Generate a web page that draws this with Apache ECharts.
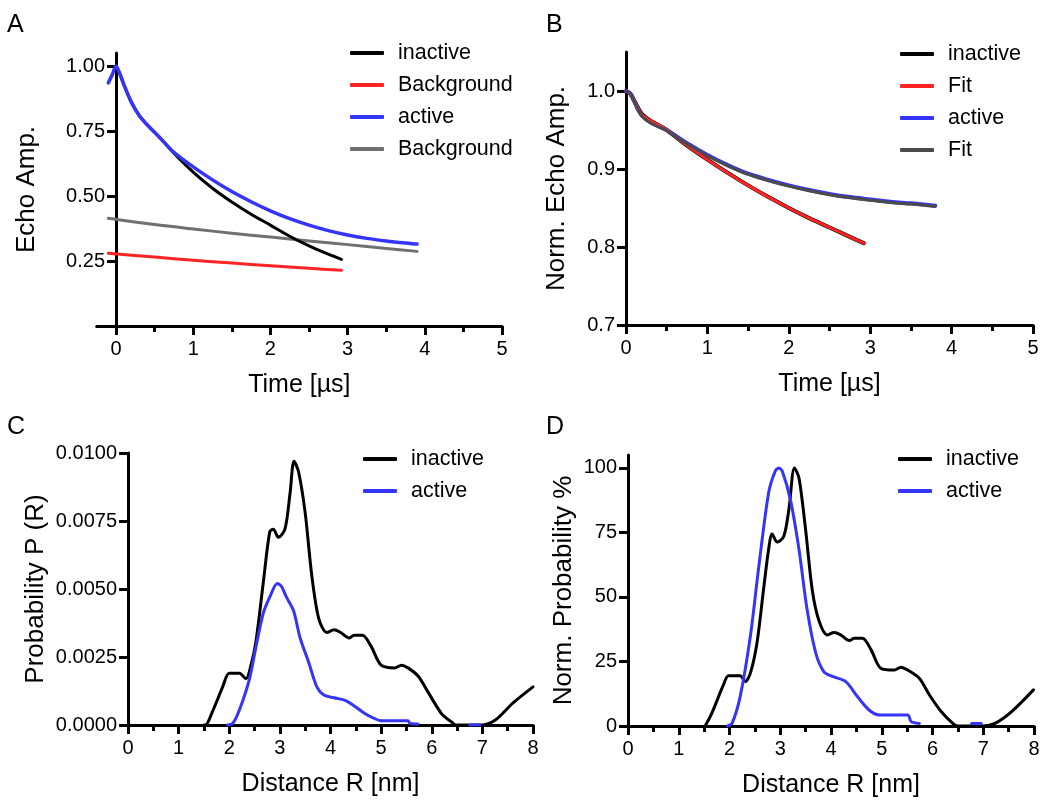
<!DOCTYPE html>
<html>
<head>
<meta charset="utf-8">
<script src="https://cdn.jsdelivr.net/npm/echarts@6/dist/echarts.min.js"></script>
<style>
  html, body { margin: 0; padding: 0; background: #fff; }
  #chart { width: 1044px; height: 801px; }
</style>
</head>
<body>
<div id="chart"></div>
<script>
// ---- Panel A: raw echo amplitude with background decays ----
const timeA_inactive = [0, 0.05, 0.1, 0.2, 0.3, 0.4, 0.55, 0.75, 1.0, 1.25, 1.5, 1.75, 2.0, 2.25, 2.5, 2.75, 2.92];
const echoA_inactive = [1.0, 0.97, 0.93, 0.86, 0.81, 0.775, 0.73, 0.665, 0.592, 0.530, 0.477, 0.430, 0.388, 0.345, 0.308, 0.276, 0.256];
const timeA_active = [-0.1, -0.05, 0, 0.05, 0.1, 0.2, 0.3, 0.4, 0.55, 0.75, 1.0, 1.25, 1.5, 1.75, 2.0, 2.25, 2.5, 2.75, 3.0, 3.25, 3.5, 3.75, 3.9];
const echoA_active = [0.935, 0.965, 1.0, 0.97, 0.93, 0.86, 0.81, 0.775, 0.73, 0.668, 0.612, 0.562, 0.517, 0.478, 0.443, 0.413, 0.388, 0.367, 0.350, 0.337, 0.327, 0.319, 0.315];
const timeA_bgInactive = [-0.1, 0.5, 1.0, 1.5, 2.0, 2.5, 2.92];
const echoA_bgInactive = [0.28, 0.265, 0.253, 0.242, 0.232, 0.222, 0.214];
const timeA_bgActive = [-0.1, 0.5, 1.0, 1.5, 2.0, 2.5, 3.0, 3.5, 3.9];
const echoA_bgActive = [0.414, 0.39, 0.373, 0.357, 0.342, 0.327, 0.313, 0.298, 0.287];

// ---- Panel B: background-corrected, normalised echo with fits ----
const timeB_inactive = [0, 0.05, 0.1, 0.15, 0.2, 0.3, 0.5, 0.75, 1.0, 1.25, 1.5, 1.75, 2.0, 2.25, 2.5, 2.75, 2.92];
const echoB_inactive = [1.0, 0.997, 0.988, 0.978, 0.97, 0.962, 0.95, 0.930, 0.912, 0.895, 0.879, 0.864, 0.850, 0.837, 0.825, 0.813, 0.805];
const fitB_inactive  = [1.0, 0.996, 0.987, 0.977, 0.969, 0.962, 0.95, 0.930, 0.912, 0.895, 0.879, 0.864, 0.850, 0.837, 0.825, 0.813, 0.805];
const timeB_active = [0, 0.05, 0.1, 0.15, 0.2, 0.3, 0.5, 0.75, 1.0, 1.25, 1.5, 1.75, 2.0, 2.25, 2.5, 2.75, 3.0, 3.25, 3.5, 3.8];
const echoB_active = [1.0, 0.997, 0.987, 0.976, 0.968, 0.96, 0.95, 0.933, 0.918, 0.905, 0.894, 0.886, 0.879, 0.873, 0.868, 0.864, 0.861, 0.858, 0.856, 0.853];
const fitB_active  = [1.0, 0.996, 0.986, 0.975, 0.967, 0.959, 0.949, 0.932, 0.917, 0.904, 0.893, 0.885, 0.878, 0.872, 0.867, 0.863, 0.860, 0.857, 0.855, 0.852];

// ---- Panel C: distance distributions P(R) ----
const distC_inactive = [1.5, 1.53, 1.67, 1.87, 2.0, 2.2, 2.33, 2.43, 2.53, 2.67, 2.8, 2.87, 2.97, 3.1, 3.2, 3.28, 3.37, 3.5, 3.63, 3.77, 3.93, 4.07, 4.2, 4.37, 4.47, 4.63, 4.8, 5.0, 5.27, 5.4, 5.53, 5.73, 5.93, 6.2, 6.4, 6.47, 7.0, 7.27, 7.6, 8.0];
const probC_inactive = [0, 0, 0.0005, 0.0014, 0.0019, 0.0019, 0.0017, 0.0022, 0.0031, 0.0052, 0.0071, 0.0072, 0.0069, 0.0072, 0.0085, 0.0097, 0.0093, 0.0078, 0.0055, 0.0039, 0.0034, 0.0035, 0.0034, 0.0032, 0.0033, 0.0033, 0.0029, 0.0022, 0.0021, 0.0022, 0.0021, 0.0018, 0.0012, 0.0004, 0.0001, 0, 0, 0.0002, 0.0008, 0.0014];
const distC_active = [1.97, 2.07, 2.2, 2.4, 2.53, 2.67, 2.8, 2.95, 3.03, 3.13, 3.27, 3.4, 3.57, 3.73, 3.87, 4.07, 4.3, 4.47, 4.67, 4.8, 5.0, 5.53, 5.57, 5.73];
const probC_active = [0, 0.00006, 0.00055, 0.0017, 0.0029, 0.0041, 0.0047, 0.0052, 0.0051, 0.0047, 0.0042, 0.0032, 0.0023, 0.0014, 0.0011, 0.001, 0.0009, 0.0007, 0.00043, 0.0003, 0.00016, 0.00016, 0.00006, 0.00004];
const distC_activeTail = [6.75, 6.95];
const probC_activeTail = [0, 0];

// ---- Panel D: normalised distance distributions ----
const distD_inactive = [1.52, 1.65, 1.88, 1.98, 2.21, 2.31, 2.41, 2.54, 2.67, 2.77, 2.84, 2.94, 3.07, 3.17, 3.28, 3.37, 3.5, 3.63, 3.76, 3.93, 4.06, 4.19, 4.36, 4.46, 4.62, 4.79, 4.98, 5.25, 5.38, 5.51, 5.74, 5.94, 6.17, 6.4, 6.5, 7.0, 7.23, 7.56, 7.99];
const probD_inactive = [0, 4.9, 15.9, 19.5, 19.5, 17.2, 20.4, 32, 52.8, 68.3, 74.4, 71.3, 73.5, 83.9, 100, 96, 76, 52.8, 41, 35.3, 36.2, 35.3, 33.1, 34, 34, 29.5, 22.4, 21.7, 22.8, 21.7, 18.5, 12, 5.6, 1, 0, 0, 1, 5.6, 14];
const distD_active = [1.96, 2.05, 2.21, 2.41, 2.57, 2.77, 2.9, 2.97, 3.04, 3.2, 3.37, 3.53, 3.7, 3.86, 4.03, 4.29, 4.52, 4.75, 4.95, 5.51, 5.58, 5.74];
const probD_active = [0, 1, 11.4, 34.7, 60.6, 90.3, 98.7, 100, 98.7, 87.7, 68.3, 45, 28.2, 21, 19.2, 17.2, 11.4, 6.2, 4.3, 4.3, 1.7, 1];
const distD_activeTail = [6.77, 6.96];
const probD_activeTail = [1, 1];

// ---- Tick positions and labels ----
const ticksA_x = [0, 1, 2, 3, 4, 5];
const minorA_x = [0.5, 1.5, 2.5, 3.5, 4.5];
const ticksA_y = [0.25, 0.5, 0.75, 1.0];
const ticksB_y = [0.7, 0.8, 0.9, 1.0];
const ticksD_y = [0, 25, 50, 75, 100];

const FONT = 'Liberation Sans, Arial, Helvetica, sans-serif';
const BLACK = '#000000';
const RED = '#ff2424';
const BLUE = '#3535fa';
const GRAY_A = '#707070';
const GRAY_B = '#4b4b4b';

function pairs(xs, ys) { return xs.map((x, i) => [x, ys[i]]); }

const axisLine = { show: true, onZero: false, lineStyle: { color: BLACK, width: 3 } };
const tickMajor = { show: true, length: 9, lineStyle: { color: BLACK, width: 3 } };
const tickLabel = { color: BLACK, fontFamily: FONT, fontSize: 20 };
const xNameStyle = { color: BLACK, fontFamily: FONT, fontSize: 25 };
const yNameStyle = { color: BLACK, fontFamily: FONT, fontSize: 26 };

function xAxisCfg(grid, name, min, max, extra) {
  return Object.assign({
    type: 'value', gridIndex: grid, min: min, max: max, interval: 1,
    position: 'bottom',
    name: name, nameLocation: 'middle', nameGap: 47, nameTextStyle: xNameStyle,
    axisLine: axisLine,
    axisTick: tickMajor,
    minorTick: { show: true, splitNumber: 2, length: 6, lineStyle: { color: BLACK, width: 3 } },
    axisLabel: Object.assign({ margin: 13 }, tickLabel),
    splitLine: { show: false }
  }, extra || {});
}

function yAxisCfg(grid, name, min, max, gap, extra) {
  return Object.assign({
    type: 'value', gridIndex: grid, min: min, max: max,
    position: 'left',
    name: name, nameLocation: 'middle', nameGap: gap, nameTextStyle: yNameStyle,
    axisLine: axisLine,
    axisTick: tickMajor,
    axisLabel: Object.assign({ margin: 11 }, tickLabel),
    splitLine: { show: false }
  }, extra || {});
}

function line(name, xIdx, yIdx, data, color, width, z) {
  return {
    type: 'line', name: name, xAxisIndex: xIdx, yAxisIndex: yIdx, data: data,
    showSymbol: false, symbol: 'none', smooth: 0.3, z: z || 2,
    lineStyle: { color: color, width: width, cap: 'round', join: 'round' },
    itemStyle: { color: color },
    emphasis: { disabled: true }
  };
}

function legendCfg(left, top, names) {
  return {
    orient: 'vertical', left: left, top: top, padding: 0, itemGap: 8,
    itemWidth: 34, itemHeight: 4, icon: 'roundRect', selectedMode: false,
    data: names,
    formatter: n => n.split('#')[0],
    textStyle: { color: BLACK, fontFamily: FONT, fontSize: 21.5, lineHeight: 24, padding: [0, 0, 0, 9] }
  };
}

// panel A: x runs from -0.25 so the y axis sits at t = 0
const gridA = { left: 96.7, top: 53, width: 405.3, height: 273 };
const zeroShiftA = 0.25 / 5.25 * gridA.width;

const option = {
  animation: false,
  backgroundColor: '#ffffff',
  title: [
    { text: 'A', left: 7, top: 13 },
    { text: 'B', left: 546, top: 13 },
    { text: 'C', left: 7, top: 415 },
    { text: 'D', left: 546, top: 415 }
  ].map(t => Object.assign(t, { padding: 0, textStyle: { color: BLACK, fontFamily: FONT, fontSize: 25, fontWeight: 'normal' } })),
  grid: [
    Object.assign({ outerBoundsMode: 'none' }, gridA),
    { left: 626, top: 52, width: 407, height: 273, outerBoundsMode: 'none' },
    { left: 128, top: 453, width: 405, height: 272, outerBoundsMode: 'none' },
    { left: 628, top: 455, width: 406, height: 271, outerBoundsMode: 'none' }
  ],
  xAxis: [
    xAxisCfg(0, 'Time [µs]', -0.25, 5, {
      minorTick: { show: false },
      axisTick: Object.assign({ customValues: ticksA_x }, tickMajor),
      axisLabel: Object.assign({ margin: 13, customValues: ticksA_x }, tickLabel)
    }),
    xAxisCfg(1, 'Time [µs]', 0, 5),
    xAxisCfg(2, 'Distance R [nm]', 0, 8),
    xAxisCfg(3, 'Distance R [nm]', 0, 8),
    // half-unit ticks along the bottom of panel A
    {
      type: 'value', gridIndex: 0, min: -0.25, max: 5, position: 'bottom',
      axisLine: { show: false },
      axisTick: { show: true, customValues: minorA_x, length: 6, lineStyle: { color: BLACK, width: 3 } },
      axisLabel: { show: false }, splitLine: { show: false }
    }
  ],
  yAxis: [
    yAxisCfg(0, 'Echo Amp.', 0, 1.05, 76, {
      offset: -zeroShiftA,
      axisTick: Object.assign({ customValues: ticksA_y }, tickMajor),
      axisLabel: Object.assign({ margin: 11, customValues: ticksA_y, formatter: v => v.toFixed(2) }, tickLabel)
    }),
    yAxisCfg(1, 'Norm. Echo Amp.', 0.7, 1.05, 56, {
      axisTick: Object.assign({ customValues: ticksB_y }, tickMajor),
      axisLabel: Object.assign({ margin: 11, customValues: ticksB_y, formatter: v => v.toFixed(1) }, tickLabel)
    }),
    yAxisCfg(2, 'Probability P (R)', 0, 0.01, 79, {
      interval: 0.0025,
      axisLabel: Object.assign({ margin: 11, formatter: v => v.toFixed(4) }, tickLabel)
    }),
    yAxisCfg(3, 'Norm. Probability %', 0, 105, 51, {
      axisTick: Object.assign({ customValues: ticksD_y }, tickMajor),
      axisLabel: Object.assign({ margin: 11, customValues: ticksD_y }, tickLabel)
    })
  ],
  legend: [
    legendCfg(350, 41, ['inactive#A', 'Background#A1', 'active#A', 'Background#A2']),
    legendCfg(900, 42, ['inactive#B', 'Fit#B1', 'active#B', 'Fit#B2']),
    legendCfg(363, 447, ['inactive#C', 'active#C']),
    legendCfg(898, 447, ['inactive#D', 'active#D'])
  ],
  series: [
    // A
    line('Background#A1', 0, 0, pairs(timeA_bgInactive, echoA_bgInactive), RED, 3, 2),
    line('Background#A2', 0, 0, pairs(timeA_bgActive, echoA_bgActive), GRAY_A, 3, 2),
    line('inactive#A', 0, 0, pairs(timeA_inactive, echoA_inactive), BLACK, 3, 3),
    line('active#A', 0, 0, pairs(timeA_active, echoA_active), BLUE, 3.5, 4),
    // B
    line('inactive#B', 1, 1, pairs(timeB_inactive, echoB_inactive), BLACK, 4, 2),
    line('Fit#B1', 1, 1, pairs(timeB_inactive, fitB_inactive), RED, 3, 3),
    line('active#B', 1, 1, pairs(timeB_active, echoB_active), BLUE, 4, 2),
    line('Fit#B2', 1, 1, pairs(timeB_active, fitB_active), GRAY_B, 3, 3),
    // C
    line('inactive#C', 2, 2, pairs(distC_inactive, probC_inactive), BLACK, 3, 2),
    line('active#C', 2, 2, pairs(distC_active, probC_active), BLUE, 3, 3),
    line('active#C', 2, 2, pairs(distC_activeTail, probC_activeTail), BLUE, 3, 3),
    // D
    line('inactive#D', 3, 3, pairs(distD_inactive, probD_inactive), BLACK, 3, 2),
    line('active#D', 3, 3, pairs(distD_active, probD_active), BLUE, 3, 3),
    line('active#D', 3, 3, pairs(distD_activeTail, probD_activeTail), BLUE, 3, 3)
  ]
};

const chart = echarts.init(document.getElementById('chart'), null, { renderer: 'canvas' });
chart.setOption(option);
</script>
</body>
</html>
